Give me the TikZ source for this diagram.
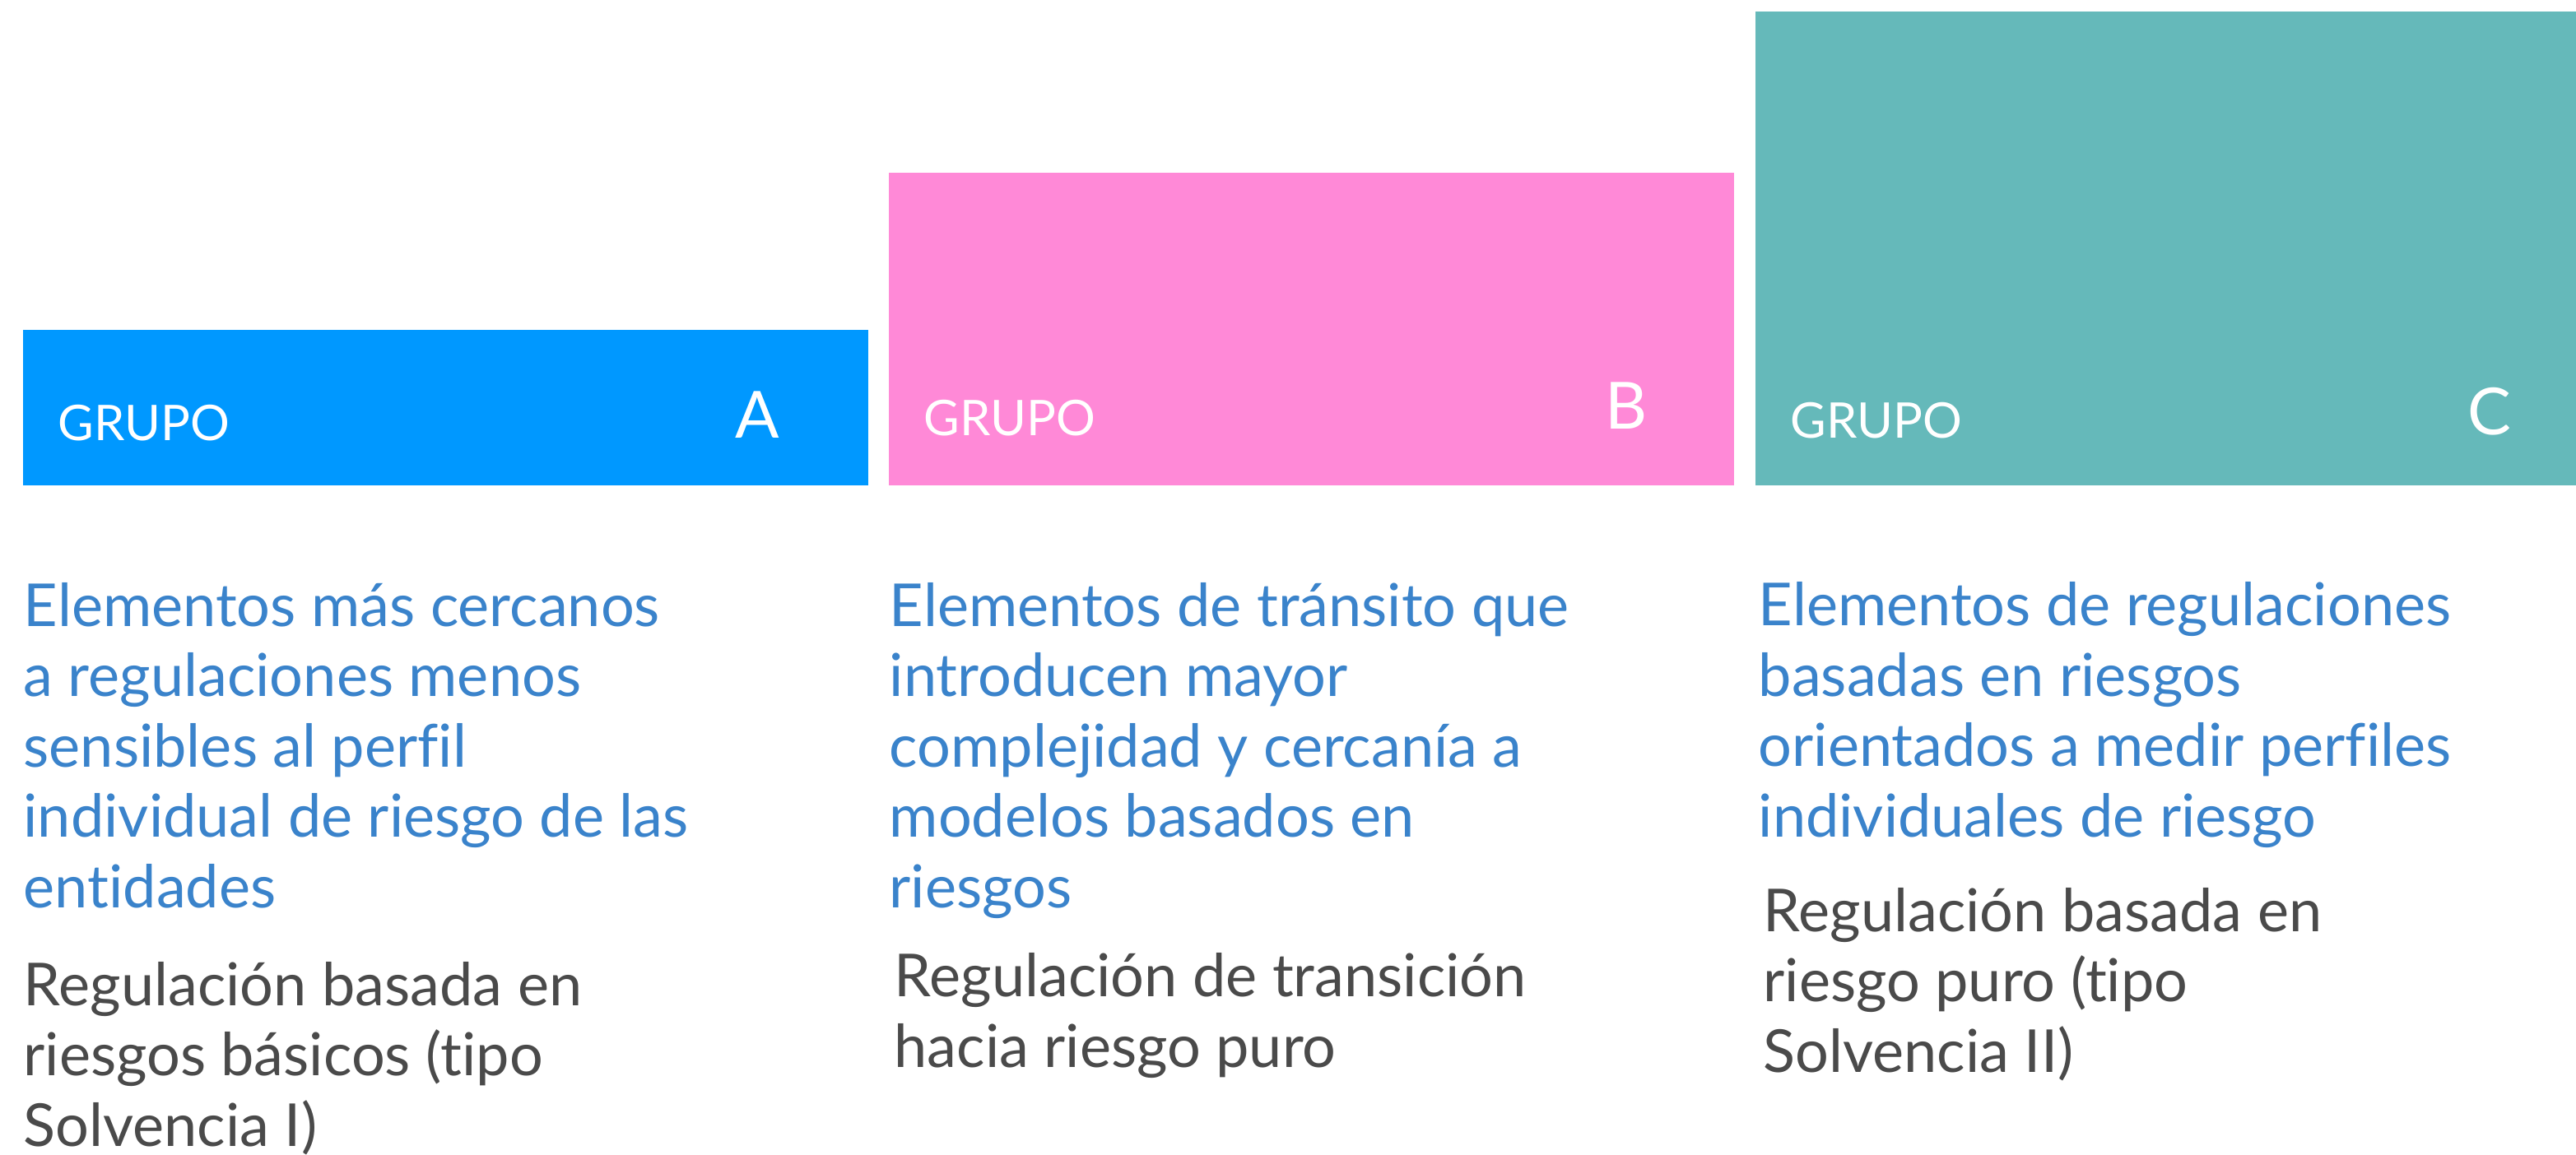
\documentclass[tikz,border=0pt]{standalone}
\usepackage{fontspec}
\setmainfont{Lato}[Ligatures=NoCommon]
\definecolor{grpA}{HTML}{0098FF}
\definecolor{grpB}{HTML}{FF89D7}
\definecolor{grpC}{HTML}{65B9BA}
\definecolor{elemblue}{HTML}{3A83CB}
\definecolor{reggray}{HTML}{4A4A4A}
\tikzset{
  grupo/.style={anchor=base west, inner sep=0, text=white, font=\fontsize{17}{20}\selectfont},
  letra/.style={anchor=base west, inner sep=0, text=white, font=\fontsize{22.5}{26}\selectfont},
  elem/.style={anchor=base west, align=left, inner sep=0, text=elemblue, font=\fontsize{20.5}{24.3}\selectfont},
  regla/.style={anchor=base west, align=left, inner sep=0, text=reggray, font=\fontsize{20.5}{24.3}\selectfont}
}
% name, left, right, top, colour, letter, letter x, grupo base, letter base
\newcommand{\drawgroup}[9]{
  \fill[#5] (#2/100,-#4/100) rectangle (#3/100,-5.90);
  \node[grupo] (grupo#1) at (#2/100+0.42,-#8/100) {GRUPO};
  \node[letra] (letra#1) at (#7/100,-#9/100) {#6};
}

\begin{document}
\begin{tikzpicture}
  \useasboundingbox (0,0) rectangle (31.30,-14.03);

  \drawgroup{A}{28}{1055}{401}{grpA}{A}{893}{535}{532}
  \drawgroup{B}{1080}{2107}{210}{grpB}{B}{1950}{529}{521}
  \drawgroup{C}{2133}{3130}{14}{grpC}{C}{2998}{532}{528}

  % texts are placed at the baseline of their last line
  \node[elem] (elemA) at (0.28,-11.03) {Elementos más cercanos\\a regulaciones menos\\sensibles al perfil\\individual de riesgo de las\\entidades};
  \node[regla] (reglaA) at (0.28,-13.93) {Regulación basada en\\riesgos básicos (tipo\\Solvencia I)};

  \node[elem] (elemB) at (10.80,-11.03) {Elementos de tránsito que\\introducen mayor\\complejidad y cercanía a\\modelos basados en\\riesgos};
  \node[regla] (reglaB) at (10.86,-12.97) {Regulación de transición\\hacia riesgo puro};

  \node[elem] (elemC) at (21.36,-10.17) {Elementos de regulaciones\\basadas en riesgos\\orientados a medir perfiles\\individuales de riesgo};
  \node[regla] (reglaC) at (21.42,-13.03) {Regulación basada en\\riesgo puro (tipo\\Solvencia II)};
\end{tikzpicture}
\end{document}
